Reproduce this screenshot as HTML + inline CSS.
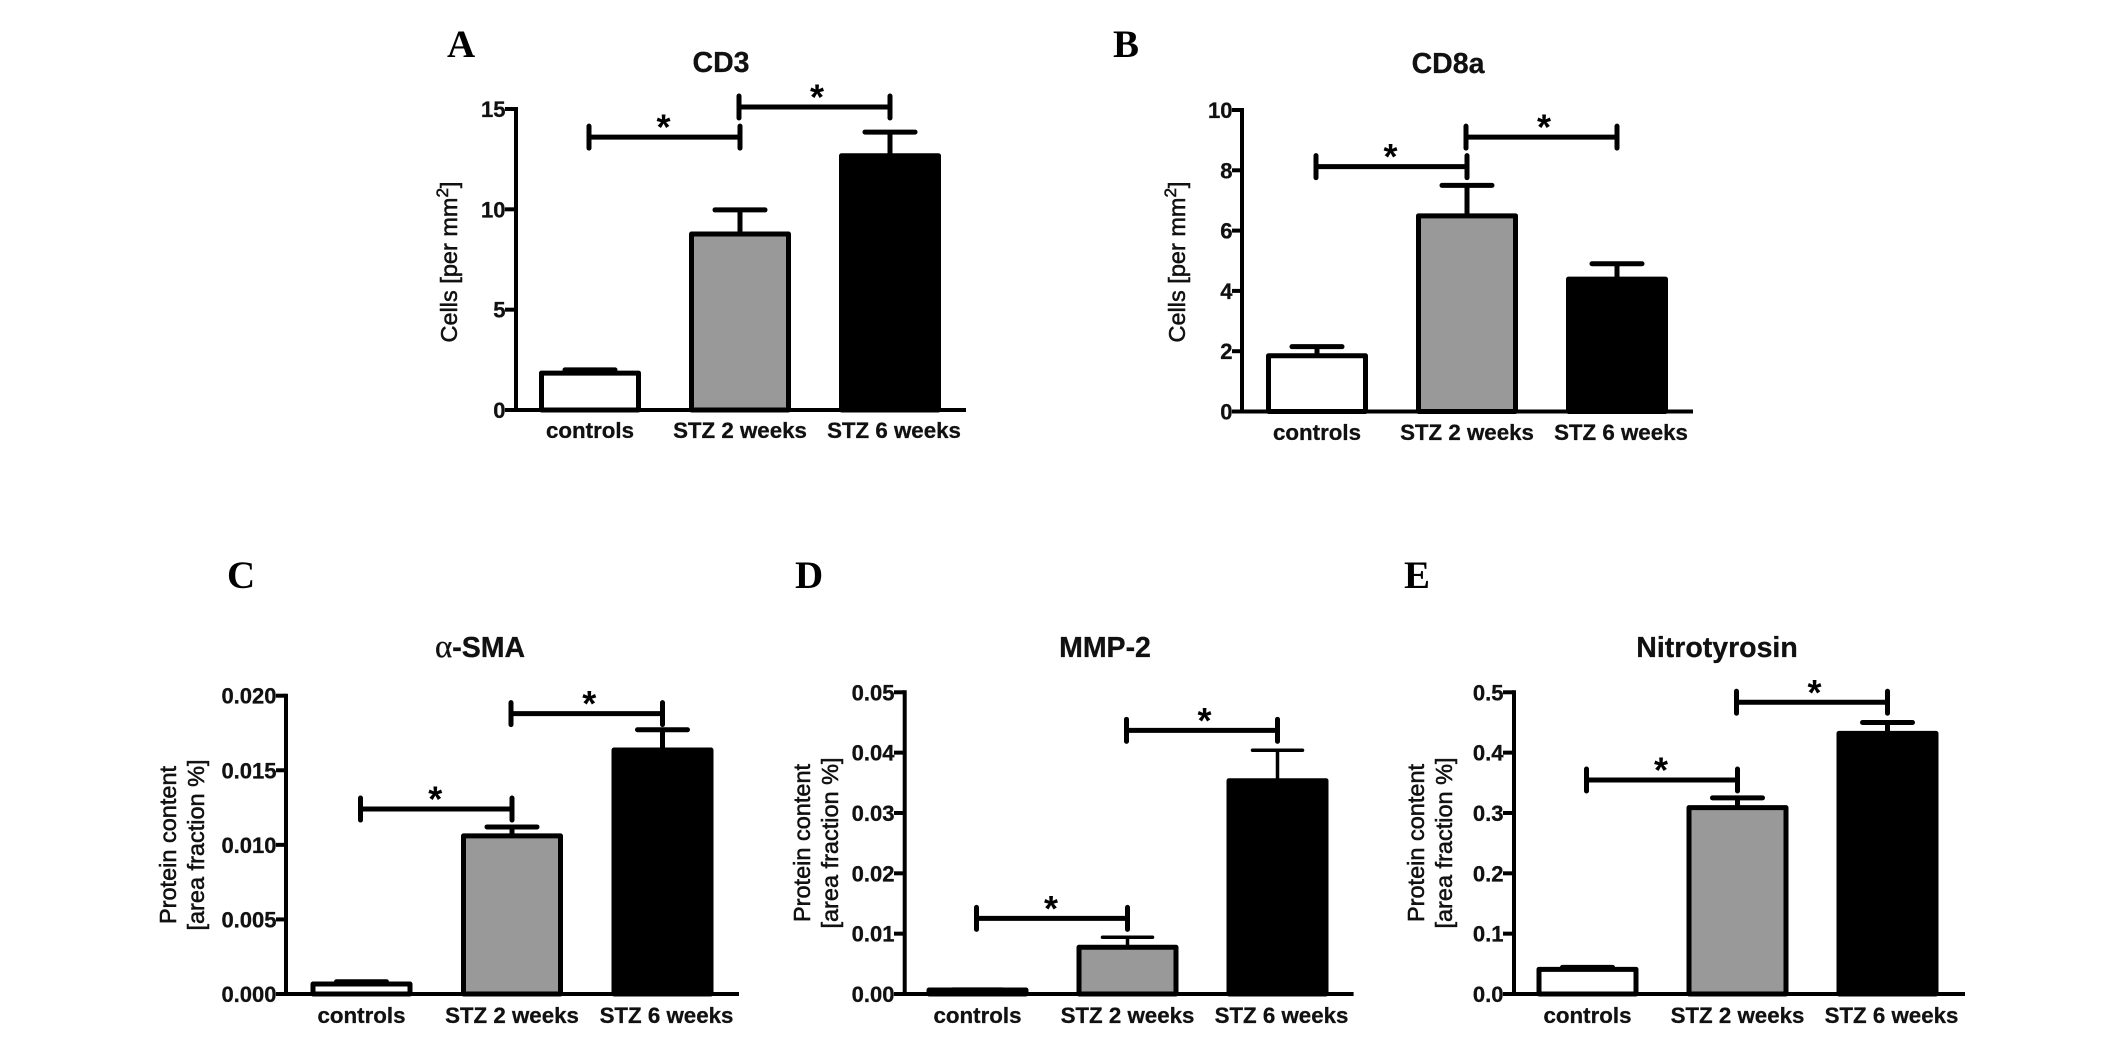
<!DOCTYPE html>
<html lang="en">
<head>
<meta charset="utf-8">
<title>CD3, CD8a, α-SMA, MMP-2 and Nitrotyrosin bar charts</title>
<style>
html,body{margin:0;padding:0;background:#fff;width:2126px;height:1047px;overflow:hidden}
svg{display:block}
text{font-family:"Liberation Sans",sans-serif;fill:#111}
.letter{font-family:"Liberation Serif",serif;font-weight:700;font-size:39px;fill:#000}
.title{font-weight:700;font-size:28.5px;text-anchor:middle;stroke:#111;stroke-width:.3px}
.ytitle{font-size:23.5px;text-anchor:middle;stroke:#111;stroke-width:.55px}
.tick{font-weight:700;font-size:22px;text-anchor:end;stroke:#111;stroke-width:.3px}
.cat{font-weight:700;font-size:22.3px;text-anchor:middle;stroke:#111;stroke-width:.3px}
.star{font-weight:700;font-size:36px;text-anchor:middle;fill:#000}
</style>
</head>
<body>
<svg id="figure" width="2126" height="1047" viewBox="0 0 2126 1047" xmlns="http://www.w3.org/2000/svg">
  <rect width="2126" height="1047" fill="#fff"/>

  <text class="letter" x="447" y="57">A</text>
  <text class="letter" x="1113" y="57">B</text>
  <text class="letter" x="227" y="588">C</text>
  <text class="letter" x="795" y="588">D</text>
  <text class="letter" x="1404" y="588">E</text>

  <text class="title" x="721" y="72">CD3</text>
  <text class="title" x="1448" y="73">CD8a</text>
  <text class="title" x="480" y="657"><tspan font-weight="400" font-family="'Liberation Serif',serif" font-size="33">α</tspan>-SMA</text>
  <text class="title" x="1105" y="657">MMP-2</text>
  <text class="title" x="1717" y="657">Nitrotyrosin</text>

  <text class="ytitle" transform="translate(457 262) rotate(-90)">Cells [per mm<tspan font-size="17" dy="-9">2</tspan><tspan dy="9">]</tspan></text>
  <text class="ytitle" transform="translate(1185 262) rotate(-90)">Cells [per mm<tspan font-size="17" dy="-9">2</tspan><tspan dy="9">]</tspan></text>

  <text class="ytitle" transform="translate(176 845) rotate(-90)">Protein content</text>
  <text class="ytitle" transform="translate(204 845) rotate(-90)">[area fraction %]</text>
  <text class="ytitle" transform="translate(810 843) rotate(-90)">Protein content</text>
  <text class="ytitle" transform="translate(838 843) rotate(-90)">[area fraction %]</text>
  <text class="ytitle" transform="translate(1424 843) rotate(-90)">Protein content</text>
  <text class="ytitle" transform="translate(1452 843) rotate(-90)">[area fraction %]</text>
</svg>

<script>
// Shared categories
const categories = ['controls', 'STZ 2 weeks', 'STZ 6 weeks'];
const barFills = ['#ffffff', '#999999', '#000000'];

// Panel A: CD3
const cd3Means = [1.84, 8.77, 12.67];
const cd3Errors = [2.0, 9.97, 13.85];
const cd3Ticks = [0, 5, 10, 15];
const cd3TickLabels = ['0', '5', '10', '15'];
const cd3BracketLevels = [13.6, 15.1];

// Panel B: CD8a
const cd8aMeans = [1.85, 6.49, 4.39];
const cd8aErrors = [2.15, 7.5, 4.9];
const cd8aTicks = [0, 2, 4, 6, 8, 10];
const cd8aTickLabels = ['0', '2', '4', '6', '8', '10'];
const cd8aBracketLevels = [8.12, 9.1];

// Panel C: alpha-SMA
const smaMeans = [0.00067, 0.0106, 0.01636];
const smaErrors = [0.00082, 0.0112, 0.01772];
const smaTicks = [0, 0.005, 0.01, 0.015, 0.02];
const smaTickLabels = ['0.000', '0.005', '0.010', '0.015', '0.020'];
const smaBracketLevels = [0.0124, 0.0188];

// Panel D: MMP-2
const mmpMeans = [0.00066, 0.00774, 0.03535];
const mmpErrors = [0.0008, 0.0094, 0.0404];
const mmpTicks = [0, 0.01, 0.02, 0.03, 0.04, 0.05];
const mmpTickLabels = ['0.00', '0.01', '0.02', '0.03', '0.04', '0.05'];
const mmpBracketLevels = [0.01254, 0.0437];

// Panel E: Nitrotyrosin
const nitroMeans = [0.0409, 0.3088, 0.432];
const nitroErrors = [0.0442, 0.325, 0.45];
const nitroTicks = [0, 0.1, 0.2, 0.3, 0.4, 0.5];
const nitroTickLabels = ['0.0', '0.1', '0.2', '0.3', '0.4', '0.5'];
const nitroBracketLevels = [0.3547, 0.4835];

// Significance brackets run between these category indices
const bracketSpans = [[0, 1], [1, 2]];

const panels = [
  {id: 'cd3', means: cd3Means, errors: cd3Errors, ticks: cd3Ticks, tickLabels: cd3TickLabels, levels: cd3BracketLevels,
   axisX: 516, y0: 410, yTop: 109, right: 966, tickLeft: 505, first: 590, step: 150, maxV: 15, catY: 438, errW: 5},
  {id: 'cd8a', means: cd8aMeans, errors: cd8aErrors, ticks: cd8aTicks, tickLabels: cd8aTickLabels, levels: cd8aBracketLevels,
   axisX: 1242, y0: 411.5, yTop: 110, right: 1693, tickLeft: 1232, first: 1317, step: 150, maxV: 10, catY: 440, errW: 5},
  {id: 'alpha-sma', means: smaMeans, errors: smaErrors, ticks: smaTicks, tickLabels: smaTickLabels, levels: smaBracketLevels,
   axisX: 286, y0: 994, yTop: 695.7, right: 739, tickLeft: 276, first: 361.5, step: 150.5, maxV: 0.02, catY: 1023, errW: 5},
  {id: 'mmp2', means: mmpMeans, errors: mmpErrors, ticks: mmpTicks, tickLabels: mmpTickLabels, levels: mmpBracketLevels,
   axisX: 904.7, y0: 994, yTop: 692.3, right: 1353.6, tickLeft: 894, first: 977.5, step: 150, maxV: 0.05, catY: 1023, errW: 3.5},
  {id: 'nitrotyrosin', means: nitroMeans, errors: nitroErrors, ticks: nitroTicks, tickLabels: nitroTickLabels, levels: nitroBracketLevels,
   axisX: 1514, y0: 994, yTop: 692.3, right: 1965, tickLeft: 1503, first: 1587.5, step: 150, maxV: 0.5, catY: 1023, errW: 5}
];

const SVG_NS = 'http://www.w3.org/2000/svg';
const figure = document.getElementById('figure');

function make(parent, tag, props) {
  const node = document.createElementNS(SVG_NS, tag);
  Object.keys(props).forEach(function (k) { node.setAttribute(k, props[k]); });
  parent.appendChild(node);
  return node;
}

function drawPanel(p) {
  const yScale = function (v) { return p.y0 - (v / p.maxV) * (p.y0 - p.yTop); };
  const xScale = function (i) { return p.first + i * p.step; };
  const barWidth = 97;
  const capHalf = 25;
  let el;

  const group = make(figure, 'g', {});
  
  

  categories.forEach(function (cat, i) {
    const cx = xScale(i);
    el = make(group, 'line', {x1: cx, x2: cx, y1: yScale(p.means[i]), y2: yScale(p.errors[i]), stroke: '#000', 'stroke-width': p.errW});
    
    

    el = make(group, 'line', {x1: cx - capHalf, x2: cx + capHalf, y1: yScale(p.errors[i]), y2: yScale(p.errors[i]), stroke: '#000', 'stroke-width': p.errW, 'stroke-linecap': 'round'});
    
    

    const top = yScale(p.means[i]);
    el = make(group, 'rect', {x: cx - barWidth / 2, y: top, width: barWidth, height: p.y0 - top, fill: barFills[i], stroke: '#000', 'stroke-width': 5, 'stroke-linejoin': 'round'});
    
    

    el = make(group, 'text', {class: 'cat', x: cx + (i === 2 ? 4 : 0), y: p.catY});
    el.textContent = cat;
    
    
  });

  el = make(group, 'line', {x1: p.axisX, x2: p.axisX, y1: p.yTop - 2, y2: p.y0 + 2, stroke: '#000', 'stroke-width': 4});
  
  

  el = make(group, 'line', {x1: p.tickLeft, x2: p.right, y1: p.y0, y2: p.y0, stroke: '#000', 'stroke-width': 4});
  
  

  p.ticks.forEach(function (t, i) {
    const y = yScale(t);
    el = make(group, 'line', {x1: p.tickLeft, x2: p.axisX, y1: y, y2: y, stroke: '#000', 'stroke-width': 4});
    
    

    el = make(group, 'text', {class: 'tick', x: p.tickLeft + 0.5, y: y + 8});
    el.textContent = p.tickLabels[i];
    
    
  });

  bracketSpans.forEach(function (span, i) {
    const xa = xScale(span[0]) - 1;
    const xb = xScale(span[1]);
    const y = yScale(p.levels[i]);
    el = make(group, 'path', {d: 'M' + xa + ' ' + (y - 11) + 'V' + (y + 11) + 'M' + xa + ' ' + y + 'H' + xb + 'M' + xb + ' ' + (y - 11) + 'V' + (y + 11), fill: 'none', stroke: '#000', 'stroke-width': 5, 'stroke-linecap': 'round'});
    
    

    el = make(group, 'text', {class: 'star', x: (xa + xb) / 2 + (i === 1 ? 2.5 : -1), y: y + 2.5});
    el.textContent = '*';
    
    
  });
}

panels.forEach(drawPanel);
</script>
</body>
</html>
